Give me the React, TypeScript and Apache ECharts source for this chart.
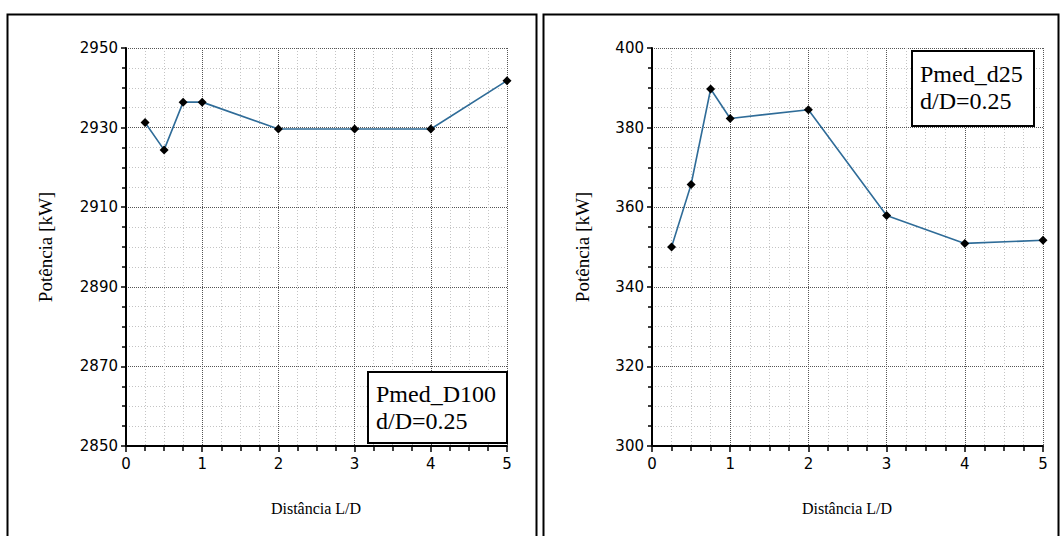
import React, { useEffect, useRef } from "react";
import * as echarts from "echarts";

const X_VALUES = [0.25, 0.5, 0.75, 1, 2, 3, 4, 5];
const P_D100 = [2931.3, 2924.4, 2936.4, 2936.4, 2929.65, 2929.65, 2929.65, 2941.8];
const P_D25 = [350.0, 365.7, 389.7, 382.3, 384.5, 357.9, 350.9, 351.7];

const LEFT_LEGEND = ["Pmed_D100", "d/D=0.25"];
const RIGHT_LEGEND = ["Pmed_d25", "d/D=0.25"];
const X_TITLE = "Distância L/D";
const Y_TITLE = "Potência [kW]";

const LINE_COLOR = "#2f6c98";
const TICK_FONT = { color: "#000", fontFamily: "DejaVu Sans", fontSize: 15 };

function xAxisCfg(gridIndex: number) {
  return {
    type: "value",
    gridIndex,
    min: 0,
    max: 5,
    interval: 1,
    axisLine: { show: true, onZero: false, lineStyle: { color: "#000", width: 2 } },
    axisTick: { show: true, length: 6, lineStyle: { color: "#000", width: 1.5 } },
    minorTick: { show: true, splitNumber: 4, length: 5, lineStyle: { color: "#000", width: 1.5 } },
    axisLabel: { ...TICK_FONT, margin: 10, formatter: (v: number) => String(v) },
    splitLine: { show: true, lineStyle: { color: "#555", width: 1, type: [1, 1] } },
    minorSplitLine: { show: true, lineStyle: { color: "#c4c4c4", width: 1, type: [1, 2] } },
  };
}

function yAxisCfg(gridIndex: number, min: number, max: number) {
  return {
    type: "value",
    gridIndex,
    min,
    max,
    interval: 20,
    axisLine: { show: true, onZero: false, lineStyle: { color: "#000", width: 2 } },
    axisTick: { show: true, length: 5, lineStyle: { color: "#000", width: 1.5 } },
    minorTick: { show: true, splitNumber: 4, length: 4, lineStyle: { color: "#000", width: 1.5 } },
    axisLabel: { ...TICK_FONT, margin: 8, formatter: (v: number) => String(v) },
    splitLine: { show: true, lineStyle: { color: "#555", width: 1, type: [1, 1] } },
    minorSplitLine: { show: true, lineStyle: { color: "#c4c4c4", width: 1, type: [1, 2] } },
  };
}

function seriesCfg(idx: number, values: number[]) {
  return {
    type: "line",
    xAxisIndex: idx,
    yAxisIndex: idx,
    data: X_VALUES.map((x, i) => [x, values[i]]),
    lineStyle: { color: LINE_COLOR, width: 1.6 },
    symbol: "diamond",
    symbolSize: 9,
    itemStyle: { color: "#000" },
    z: 5,
  };
}

function legendBox(x: number, y: number, w: number, h: number, lines: string[], base1: number) {
  return {
    type: "group",
    z: 100,
    children: [
      {
        type: "rect",
        z: 100,
        shape: { x, y, width: w, height: h },
        style: { fill: "#fff", stroke: "#000", lineWidth: 2 },
      },
      ...lines.map((t, i) => ({
        type: "text",
        z: 101,
        x: x + 8,
        y: base1 + i * 27 - 8,
        style: {
          text: t,
          fill: "#000",
          font: "24px 'Liberation Serif'",
          align: "left",
          verticalAlign: "middle",
        },
      })),
    ],
  };
}

function titleText(x: number, y: number, text: string, size: number, rotate: boolean) {
  return {
    type: "text",
    x,
    y,
    rotation: rotate ? Math.PI / 2 : 0,
    style: {
      text,
      fill: "#000",
      font: `${size}px 'Liberation Serif'`,
      align: "center",
      verticalAlign: "middle",
    },
  };
}

export default function App() {
  const ref = useRef<HTMLDivElement>(null);
  useEffect(() => {
    document.body.style.margin = "0";
    if (!ref.current) return;
    const chart = echarts.init(ref.current, undefined, { renderer: "svg" });
    chart.setOption({
      animation: false,
      backgroundColor: "#fff",
      grid: [
        { left: 126, top: 48, width: 381, height: 398 },
        { left: 652, top: 48, width: 391, height: 398 },
      ],
      xAxis: [xAxisCfg(0), xAxisCfg(1)],
      yAxis: [yAxisCfg(0, 2850, 2950), yAxisCfg(1, 300, 400)],
      series: [seriesCfg(0, P_D100), seriesCfg(1, P_D25)],
      graphic: [
        {
          type: "rect",
          z: 0,
          shape: { x: 7.5, y: 14.5, width: 529, height: 540 },
          style: { fill: "none", stroke: "#000", lineWidth: 2 },
        },
        {
          type: "rect",
          z: 0,
          shape: { x: 543.5, y: 14.5, width: 515, height: 540 },
          style: { fill: "none", stroke: "#000", lineWidth: 2 },
        },
        titleText(316, 508, X_TITLE, 16, false),
        titleText(847, 508, X_TITLE, 16, false),
        titleText(45, 247, Y_TITLE, 19, true),
        titleText(582, 247, Y_TITLE, 19, true),
        legendBox(368, 372, 139, 71, LEFT_LEGEND, 401.7),
        legendBox(912, 51, 122, 75, RIGHT_LEGEND, 82),
      ],
    });
    return () => chart.dispose();
  }, []);
  return <div ref={ref} style={{ position: "absolute", left: 0, top: 0, width: 1060, height: 536 }} />;
}
